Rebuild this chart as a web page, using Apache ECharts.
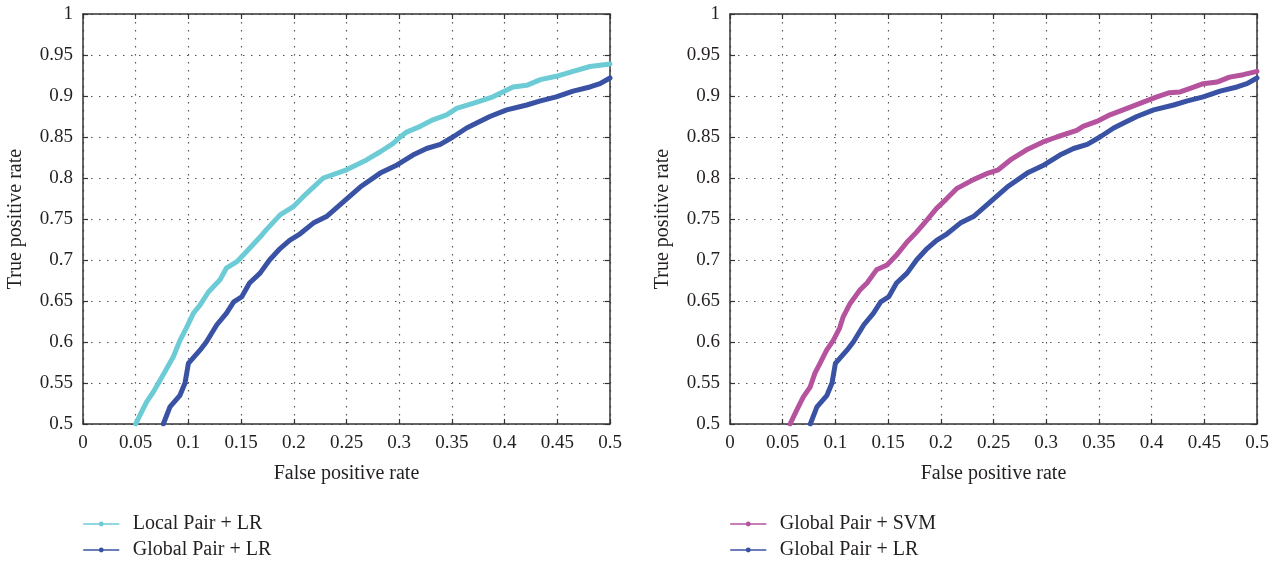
<!DOCTYPE html>
<html>
<head>
<meta charset="utf-8">
<script src="https://cdn.jsdelivr.net/npm/echarts@6/dist/echarts.min.js"></script>
<style>
html,body{margin:0;padding:0;background:#fff;}
#chart{width:1282px;height:563px;}
</style>
</head>
<body>
<div id="chart"></div>
<script>
// ---- data ----
const xTicks = ['0','0.05','0.1','0.15','0.2','0.25','0.3','0.35','0.4','0.45','0.5'];
const yTicks = ['0.5','0.55','0.6','0.65','0.7','0.75','0.8','0.85','0.9','0.95','1'];

const localLR_x = [0.05,0.0557,0.0604,0.0667,0.073,0.0857,0.092,0.098,0.1047,0.111,0.119,0.130,0.136,0.146,0.155,0.168,0.174,0.187,0.1995,0.212,0.228,0.250,0.269,0.282,0.294,0.301,0.307,0.320,0.332,0.345,0.3545,0.370,0.389,0.408,0.421,0.434,0.449,0.465,0.481,0.500];
const localLR_y = [0.5,0.515,0.527,0.539,0.553,0.582,0.602,0.617,0.635,0.645,0.661,0.676,0.690,0.698,0.710,0.728,0.737,0.755,0.765,0.781,0.800,0.810,0.822,0.832,0.842,0.850,0.856,0.863,0.871,0.877,0.885,0.891,0.899,0.911,0.913,0.920,0.924,0.930,0.936,0.939];

const globalLR_x = [0.0762,0.0825,0.092,0.0968,0.100,0.111,0.117,0.127,0.136,0.143,0.1505,0.158,0.168,0.177,0.187,0.196,0.206,0.2185,0.231,0.247,0.263,0.282,0.298,0.313,0.326,0.339,0.351,0.364,0.3735,0.386,0.402,0.421,0.434,0.449,0.465,0.481,0.4905,0.500];
const globalLR_y = [0.5,0.521,0.535,0.55,0.574,0.590,0.600,0.621,0.635,0.649,0.655,0.672,0.684,0.700,0.714,0.724,0.732,0.745,0.753,0.771,0.789,0.806,0.816,0.828,0.836,0.841,0.850,0.861,0.867,0.875,0.883,0.889,0.894,0.899,0.906,0.911,0.915,0.922];

const globalSVM_x = [0.057,0.0633,0.0696,0.076,0.0806,0.0854,0.0917,0.098,0.104,0.1075,0.114,0.123,0.130,0.139,0.149,0.158,0.168,0.177,0.187,0.196,0.205,0.215,0.231,0.245,0.2545,0.266,0.281,0.297,0.310,0.329,0.335,0.348,0.3605,0.373,0.389,0.405,0.417,0.427,0.436,0.449,0.462,0.474,0.487,0.500];
const globalSVM_y = [0.5,0.517,0.533,0.545,0.562,0.574,0.590,0.602,0.617,0.631,0.647,0.663,0.672,0.688,0.694,0.706,0.722,0.734,0.749,0.763,0.774,0.787,0.798,0.806,0.810,0.822,0.834,0.844,0.850,0.858,0.863,0.869,0.877,0.883,0.891,0.899,0.904,0.905,0.909,0.915,0.917,0.923,0.926,0.930];

const names = ['Local Pair + LR','Global Pair + LR','Global Pair + SVM'];
const colors = {cyan:'#6dcbd6', blue:'#3a52a4', magenta:'#b5539f'};

// ---- chart ----
const zip = (xs, ys) => xs.map((x, i) => [x, ys[i]]);
const FONT = '"Liberation Serif", "DejaVu Serif", serif';
const TXT = '#231f20';
const grids = [
  {left: 83, top: 14, width: 527, height: 410},
  {left: 730, top: 14, width: 527, height: 410}
];
const gridLine = {show: true, lineStyle: {color: '#555', width: 1.2, type: [1.5, 6.5]}};
const axisLine = {show: true, onZero: false, lineStyle: {color: '#333', width: 1.5}};
const tick = {show: true, inside: true, length: 5, lineStyle: {color: '#333', width: 1.2}};

function xAxes(gi) {
  return [
    {type: 'value', gridIndex: gi, min: 0, max: 0.5, interval: 0.05, position: 'bottom',
     axisLine, axisTick: tick, splitLine: gridLine,
     axisLabel: {fontFamily: FONT, fontSize: 19, color: TXT, margin: 10,
       formatter: v => xTicks[Math.round(v / 0.05)]},
     name: 'False positive rate', nameLocation: 'middle', nameGap: 40,
     nameTextStyle: {fontFamily: FONT, fontSize: 20, color: TXT}},
    {type: 'value', gridIndex: gi, min: 0, max: 0.5, interval: 0.05, position: 'top',
     axisLine, axisTick: tick, splitLine: {show: false}, axisLabel: {show: false}}
  ];
}
function yAxes(gi) {
  return [
    {type: 'value', gridIndex: gi, min: 0.5, max: 1, interval: 0.05, position: 'left',
     axisLine, axisTick: tick, splitLine: gridLine,
     axisLabel: {fontFamily: FONT, fontSize: 19, color: TXT, margin: 10,
       formatter: v => yTicks[Math.round((v - 0.5) / 0.05)]},
     name: 'True positive rate', nameLocation: 'middle', nameGap: 57, nameRotate: 90,
     nameTextStyle: {fontFamily: FONT, fontSize: 20, color: TXT}},
    {type: 'value', gridIndex: gi, min: 0.5, max: 1, interval: 0.05, position: 'right',
     axisLine, axisTick: tick, splitLine: {show: false}, axisLabel: {show: false}}
  ];
}

function lineSeries(name, data, color, xi, yi) {
  return {
    type: 'line', name, data, xAxisIndex: xi, yAxisIndex: yi,
    symbol: 'circle', showSymbol: false, symbolSize: 4,
    smooth: false, clip: true,
    lineStyle: {color, width: 5, cap: 'round', join: 'round'},
    itemStyle: {color},
    emphasis: {disabled: true}
  };
}

const legendCommon = {
  orient: 'vertical', top: 514, itemWidth: 35, itemHeight: 6, itemGap: 6, padding: 0,
  lineStyle: {width: 1.5},
  textStyle: {fontFamily: FONT, fontSize: 20, color: TXT, padding: [0, 0, 0, 9]}
};

const option = {
  backgroundColor: '#fff',
  animation: false,
  grid: grids,
  xAxis: [...xAxes(0), ...xAxes(1)],
  yAxis: [...yAxes(0), ...yAxes(1)],
  legend: [
    Object.assign({}, legendCommon, {left: 83, data: [names[0], names[1]]}),
    Object.assign({}, legendCommon, {left: 730, data: [names[2], names[1]]})
  ],
  series: [
    lineSeries(names[0], zip(localLR_x, localLR_y), colors.cyan, 0, 0),
    lineSeries(names[1], zip(globalLR_x, globalLR_y), colors.blue, 0, 0),
    lineSeries(names[2], zip(globalSVM_x, globalSVM_y), colors.magenta, 2, 2),
    lineSeries(names[1], zip(globalLR_x, globalLR_y), colors.blue, 2, 2)
  ]
};

const chart = echarts.init(document.getElementById('chart'), null, {renderer: 'canvas'});
chart.setOption(option);
</script>
</body>
</html>
